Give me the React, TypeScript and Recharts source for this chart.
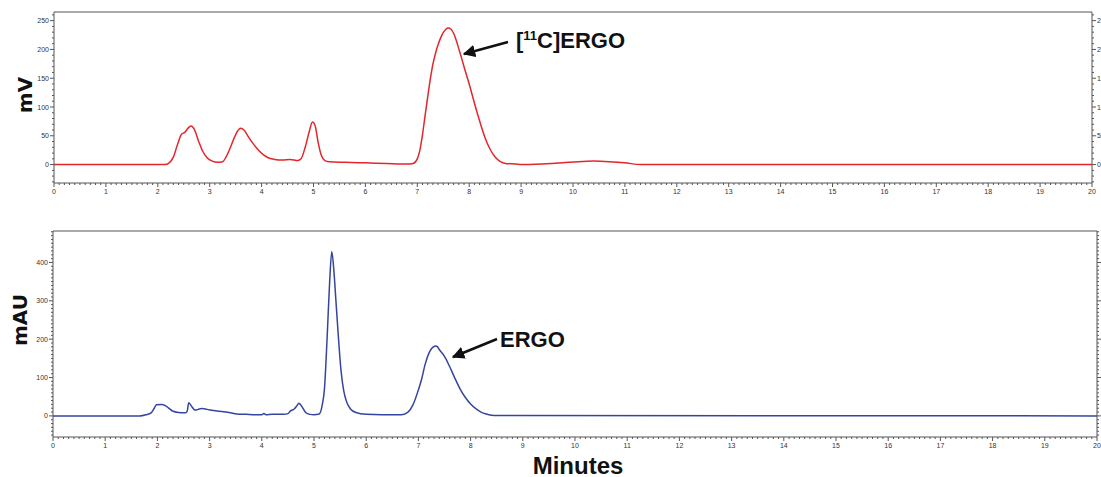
import { LineChart, Line, XAxis, YAxis, ReferenceLine } from "recharts";

// radio trace (mV)
const RADIO_TIME = [
  0, 2.0, 2.14, 2.22, 2.3, 2.38, 2.46, 2.52, 2.58, 2.64, 2.7, 2.78, 2.86, 2.95, 3.05, 3.15, 3.25,
  3.32, 3.4, 3.48, 3.56, 3.6, 3.66, 3.74, 3.84, 3.95, 4.05, 4.15, 4.25, 4.4, 4.55, 4.7, 4.76,
  4.84, 4.92, 4.98, 5.03, 5.09, 5.15, 5.22, 5.3, 5.6, 6.0, 6.4, 6.8, 6.92, 7.0, 7.05, 7.1, 7.15,
  7.2, 7.25, 7.3, 7.35, 7.4, 7.45, 7.5, 7.55, 7.6, 7.65, 7.7, 7.75, 7.8, 7.85, 7.9, 7.95, 8.0,
  8.1, 8.2, 8.3, 8.4, 8.5, 8.6, 8.7, 8.9, 9.0, 9.4, 9.8, 10.1, 10.4, 10.7, 11.0, 11.3, 20,
];
const RADIO_MV = [
  0, 0, 0, 3, 13, 35, 53, 56, 63, 67, 62, 42, 24, 12, 6, 4, 5,
  14, 30, 48, 61, 63, 60, 49, 36, 24, 16, 11, 9, 8, 9, 7, 10,
  30, 58, 74, 68, 38, 16, 7, 5, 4, 3, 2, 1, 2, 10, 25, 52, 85,
  117, 148, 174, 193, 208, 220, 229, 235, 237, 235, 228, 216, 201, 186, 170, 155, 140,
  107, 76, 48, 27, 13, 5, 2, 1, 0, 1, 3, 5, 6, 5, 3, 0, 0,
];

// UV trace (mAU)
const UV_TIME = [
  0, 1.66, 1.78, 1.88, 1.94, 1.98, 2.08, 2.15, 2.21, 2.3, 2.4, 2.53, 2.57, 2.6, 2.66, 2.72,
  2.78, 2.85, 2.95, 3.07, 3.27, 3.4, 3.52, 3.7, 3.91, 4.0, 4.04, 4.08, 4.2, 4.42, 4.5, 4.55,
  4.62, 4.67, 4.71, 4.76, 4.84, 4.92, 5.0, 5.1, 5.16, 5.2, 5.25, 5.3, 5.34, 5.38, 5.42, 5.46,
  5.52, 5.57, 5.63, 5.7, 5.8, 6.0, 6.3, 6.67, 6.8, 6.9, 7.0, 7.06, 7.13, 7.2, 7.25, 7.3, 7.33,
  7.36, 7.4, 7.5, 7.6, 7.7, 7.8, 7.9, 8.0, 8.1, 8.2, 8.3, 8.4, 8.5, 20,
];
const UV_MAU = [
  0, 0, 3, 8, 20, 29, 30, 27, 21, 12, 9, 8, 12, 34, 24, 15,
  17, 19, 17, 14, 11, 8, 5, 4, 3, 3, 6, 3, 4, 4, 6, 13,
  18, 26, 33, 26, 9, 4, 3, 5, 30, 70, 200, 350, 428, 380, 300, 220,
  115, 65, 35, 18, 9, 4, 3, 3, 10, 30, 68, 95, 135, 163, 175, 181, 182,
  181, 173, 155, 128, 98, 70, 48, 31, 19, 10, 5, 2, 1, 0,
];

const X_LABELS = [0, 1, 2, 3, 4, 5, 6, 7, 8, 9, 10, 11, 12, 13, 14, 15, 16, 17, 18, 19, 20];
const TOP_Y_LABELS = [0, 50, 100, 150, 200, 250];
const BOTTOM_Y_LABELS = [0, 100, 200, 300, 400];

const TOP_DOMAIN = [-32, 265];
const BOTTOM_DOMAIN = [-55, 482];

const AXIS = "#555";
const TXT = "#333";
const FONT = "'Liberation Sans', Arial, sans-serif";

const steps = (from: number, to: number, step: number) => {
  const out: number[] = [];
  for (let v = from; v <= to + 1e-9; v += step) out.push(Math.round(v * 10) / 10);
  return out;
};

const X_TICKS = steps(0, 20, 0.1);
const TOP_Y_TICKS = steps(-30, 260, 10);
const BOTTOM_Y_TICKS = steps(-50, 480, 10);

const radioData = RADIO_TIME.map((t, i) => ({ t, v: RADIO_MV[i] }));
const uvData = UV_TIME.map((t, i) => ({ t, v: UV_MAU[i] }));

const XTick = ({ x, y, payload }: any) => {
  const v = payload.value;
  const major = X_LABELS.includes(v);
  return (
    <g>
      <line x1={x} x2={x} y1={y} y2={y + (major ? 4 : 2)} stroke={AXIS} />
      {major && (
        <text x={x} y={y + 11} textAnchor="middle" fontSize={7} fill={TXT} fontFamily={FONT}>
          {v}
        </text>
      )}
    </g>
  );
};

const makeYTick = (labels: number[], side: "left" | "right", showLabels: boolean) =>
  ({ x, y, payload }: any) => {
    const v = payload.value;
    const major = labels.includes(v);
    const dir = side === "left" ? -1 : 1;
    return (
      <g>
        <line x1={x} x2={x + dir * (major ? 4 : 2)} y1={y} y2={y} stroke={AXIS} />
        {major && showLabels && (
          <text
            x={x + dir * 5}
            y={y + 2.5}
            textAnchor={side === "left" ? "end" : "start"}
            fontSize={7}
            fill={TXT}
            fontFamily={FONT}
          >
            {v}
          </text>
        )}
      </g>
    );
  };

const Chromatogram = ({
  data,
  color,
  domain,
  yTicks,
  yLabels,
  leftWidth,
  rightWidth,
  height,
  rightLabels,
}: any) => (
  <LineChart
    width={1101}
    height={height}
    data={data}
    margin={{ top: 12, right: 0, bottom: 0, left: 0 }}
  >
    <XAxis
      dataKey="t"
      type="number"
      domain={[0, 20]}
      ticks={X_TICKS}
      interval={0}
      tickSize={0}
      tickMargin={0}
      tickLine={false}
      tick={<XTick />}
      height={17}
      stroke={AXIS}
      allowDataOverflow
    />
    <YAxis
      yAxisId="l"
      type="number"
      domain={domain}
      ticks={yTicks}
      interval={0}
      tickSize={0}
      tickMargin={0}
      tickLine={false}
      tick={makeYTick(yLabels, "left", true)}
      width={leftWidth}
      stroke={AXIS}
      allowDataOverflow
    />
    <YAxis
      yAxisId="r"
      orientation="right"
      type="number"
      domain={domain}
      ticks={yTicks}
      interval={0}
      tickSize={0}
      tickMargin={0}
      tickLine={false}
      tick={makeYTick(yLabels, "right", rightLabels)}
      width={rightWidth}
      stroke={AXIS}
      allowDataOverflow
    />
    <ReferenceLine yAxisId="l" y={domain[1]} stroke={AXIS} />
    <Line
      yAxisId="l"
      dataKey="v"
      type="monotone"
      stroke={color}
      strokeWidth={1.5}
      dot={false}
      isAnimationActive={false}
    />
  </LineChart>
);

export default function App() {
  return (
    <div style={{ position: "absolute", left: 0, top: 0, width: 1101, height: 477, background: "#fff" }}>
      <div style={{ position: "absolute", left: 0, top: 0 }}>
        <Chromatogram
          data={radioData}
          color="#e3262b"
          domain={TOP_DOMAIN}
          yTicks={TOP_Y_TICKS}
          yLabels={TOP_Y_LABELS}
          leftWidth={54}
          rightWidth={9}
          height={200}
          rightLabels
        />
      </div>
      <div style={{ position: "absolute", left: 0, top: 219 }}>
        <Chromatogram
          data={uvData}
          color="#35459f"
          domain={BOTTOM_DOMAIN}
          yTicks={BOTTOM_Y_TICKS}
          yLabels={BOTTOM_Y_LABELS}
          leftWidth={53}
          rightWidth={4}
          height={235}
          rightLabels={false}
        />
      </div>
      <svg
        width={1101}
        height={477}
        style={{ position: "absolute", left: 0, top: 0, pointerEvents: "none" }}
      >
        <defs>
          <marker id="head" viewBox="0 0 10 10" refX="9" refY="5" markerWidth="5" markerHeight="5" orient="auto">
            <path d="M0,0 L10,5 L0,10 z" fill="#111" />
          </marker>
        </defs>
        <text
          transform="translate(32,95) rotate(-90)"
          textAnchor="middle"
          fontSize={20}
          fontWeight="bold"
          fontFamily="'DejaVu Sans', sans-serif"
          fill="#111"
        >
          mV
        </text>
        <text
          transform="translate(27,320) rotate(-90)"
          textAnchor="middle"
          fontSize={20}
          fontWeight="bold"
          fontFamily="'DejaVu Sans', sans-serif"
          fill="#111"
        >
          mAU
        </text>
        <text x={578} y={474} textAnchor="middle" fontSize={24} fontWeight="bold" fontFamily={FONT} fill="#111">
          Minutes
        </text>
        <line x1={508} y1={42} x2={464} y2={54} stroke="#111" strokeWidth={2.5} markerEnd="url(#head)" />
        <text x={516} y={48} fontSize={22} fontWeight="bold" fontFamily={FONT} fill="#111">
          [<tspan fontSize={13} dy={-8}>11</tspan>
          <tspan dy={8}>C]ERGO</tspan>
        </text>
        <line x1={497} y1={339} x2={453} y2={357} stroke="#111" strokeWidth={2.5} markerEnd="url(#head)" />
        <text x={500} y={347} fontSize={22} fontWeight="bold" fontFamily={FONT} fill="#111">
          ERGO
        </text>
      </svg>
    </div>
  );
}
